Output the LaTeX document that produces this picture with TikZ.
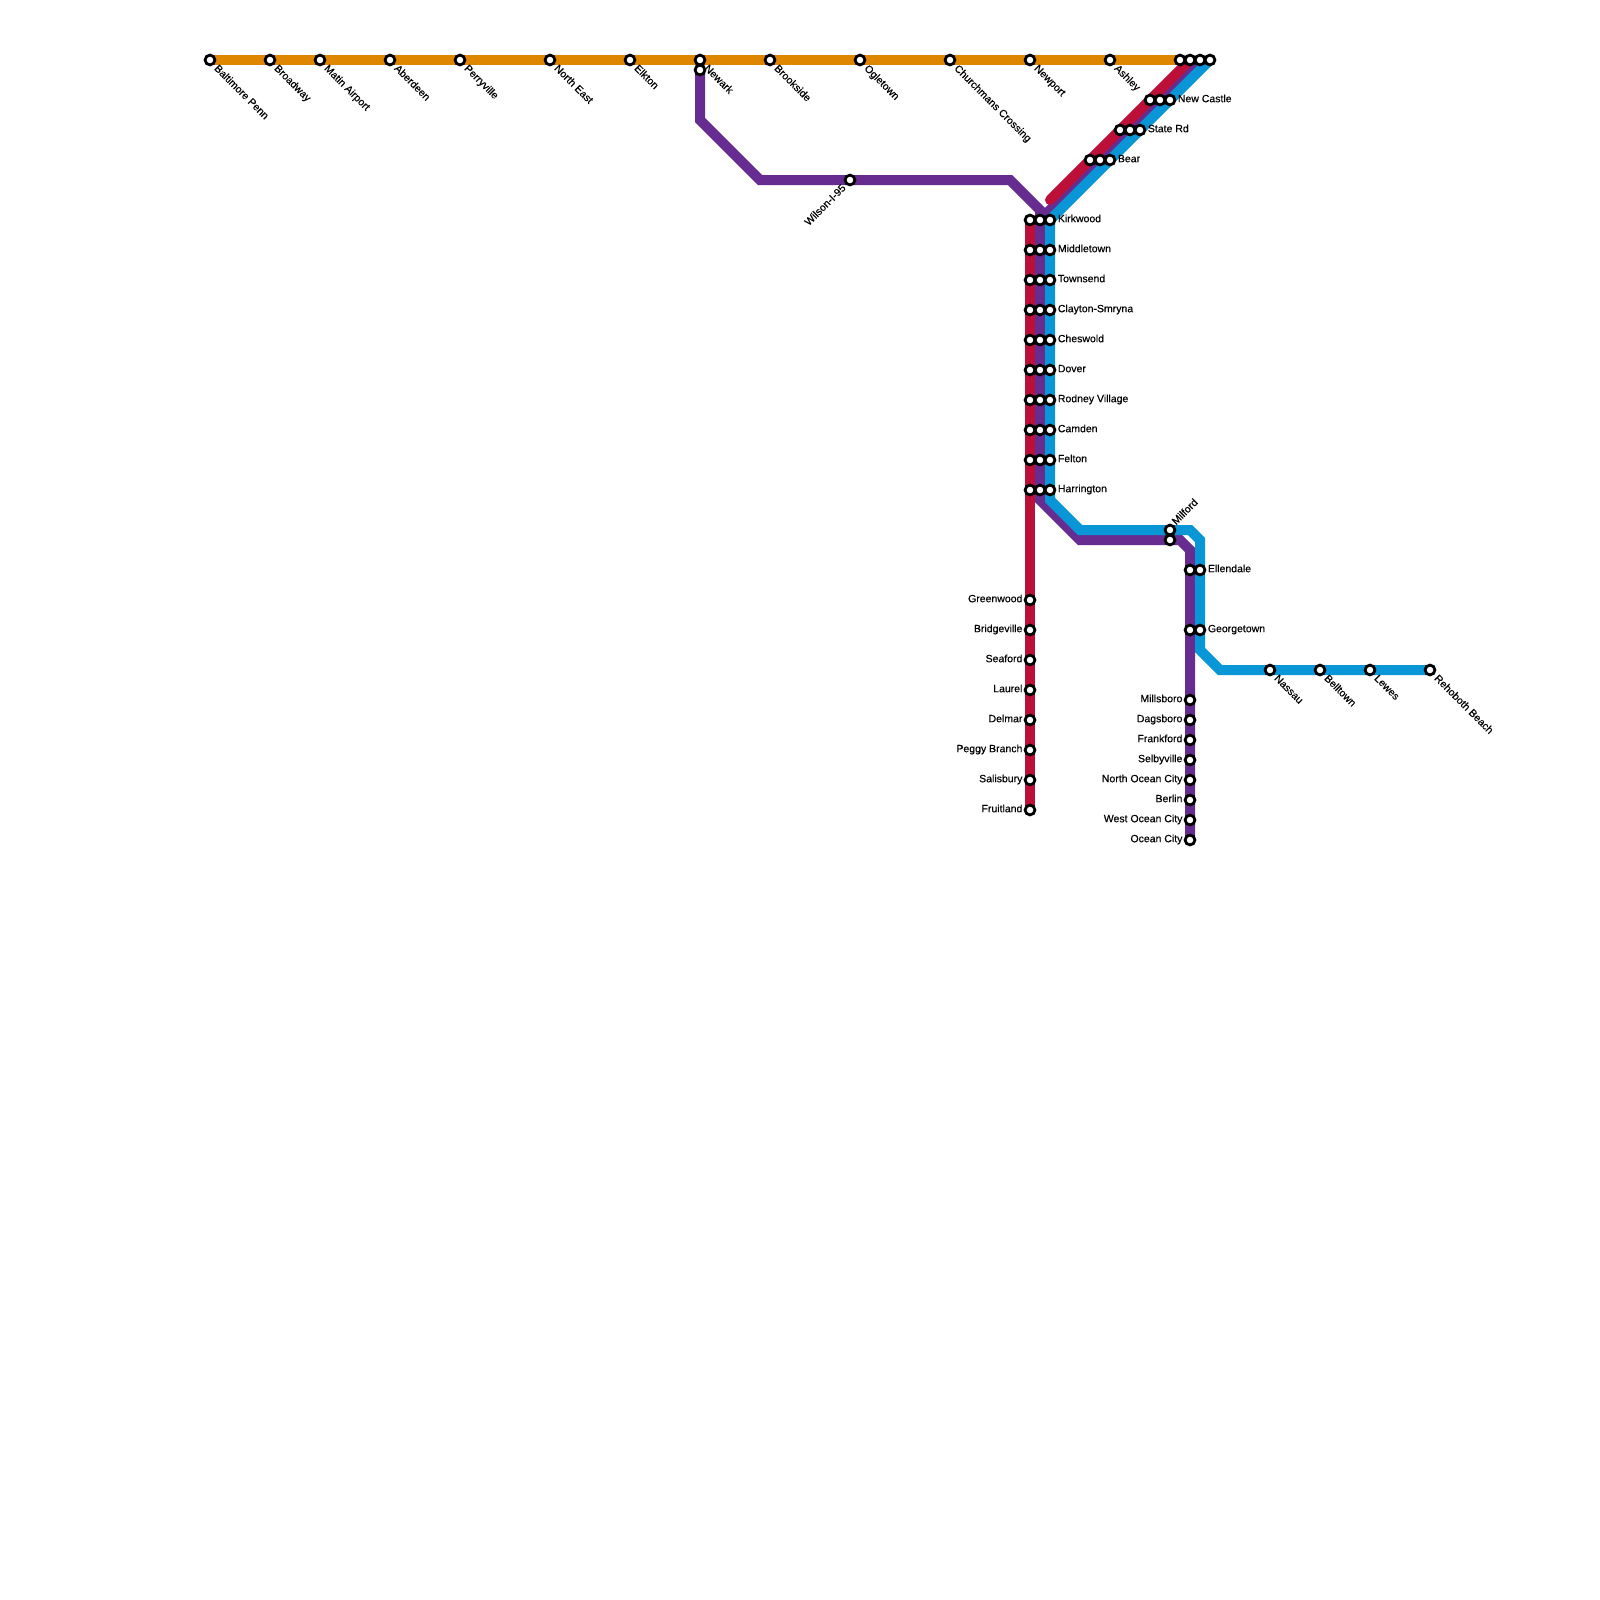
\documentclass[tikz,border=0pt]{standalone}
\usepackage{fontspec}
\setmainfont{Liberation Sans}
\newfontfamily\lblfont[FakeBold=0.35]{Liberation Sans}
\usetikzlibrary{backgrounds}
\definecolor{orangeline}{HTML}{DF8600}
\definecolor{redline}{HTML}{BD1038}
\definecolor{purpleline}{HTML}{662C90}
\definecolor{blueline}{HTML}{0896D7}
\tikzset{
  x=1pt,y=-1pt,
  stn/.style={circle,draw=black,fill=white,line width=2.8pt,minimum size=9.8pt,inner sep=0pt,outer sep=0pt},
  route/.style={line width=10pt,miter limit=10,line join=miter,line cap=butt},
  lbl/.style={font=\lblfont\fontsize{10.5}{12}\selectfont,inner sep=0pt,text=black},
  lr/.style={lbl,anchor=base west},
  ll/.style={lbl,anchor=base east},
  ld/.style={lbl,anchor=base west,rotate=-45},
  lu/.style={lbl,anchor=base west,rotate=45},
  lw/.style={lbl,anchor=base east,rotate=45},
}
\begin{document}
\begin{tikzpicture}
\useasboundingbox (0,0) rectangle (1600,1600);
\foreach \n/\x/\y in {bal/210/60,bro/270/60,mat/320/60,abe/390/60,per/460/60,nea/550/60,elk/630/60,
 newk/700/60,newkb/700/70,brk/770/60,ogl/860/60,chu/950/60,npt/1030/60,ash/1110/60,
 ta/1180/60,tb/1190/60,tc/1200/60,td/1210/60,
 nca/1150/100,ncb/1160/100,ncc/1170/100,sra/1120/130,srb/1130/130,src/1140/130,
 bea/1090/160,beb/1100/160,bec/1110/160,wil/850/180,
 kia/1030/220,kib/1040/220,kic/1050/220,mia/1030/250,mib/1040/250,mic/1050/250,
 toa/1030/280,tob/1040/280,toc/1050/280,cla/1030/310,clb/1040/310,clc/1050/310,
 cha/1030/340,chb/1040/340,chc/1050/340,doa/1030/370,dob/1040/370,doc/1050/370,
 roa/1030/400,rob/1040/400,roc/1050/400,caa/1030/430,cab/1040/430,cac/1050/430,
 fea/1030/460,feb/1040/460,fec/1050/460,haa/1030/490,hab/1040/490,hac/1050/490,
 gre/1030/600,brd/1030/630,sea/1030/660,lau/1030/690,del/1030/720,peg/1030/750,sal/1030/780,fru/1030/810,
 mila/1170/530,milb/1170/540,ela/1190/570,elb/1200/570,gea/1190/630,geb/1200/630,
 nas/1270/670,bel/1320/670,lew/1370/670,reh/1430/670,
 mib2/1190/700,dag/1190/720,fra/1190/740,sel/1190/760,noc/1190/780,ber/1190/800,woc/1190/820,oce/1190/840}
 {\node[stn] (\n) at (\x,\y) {};}
\coordinate (p1) at (700,120);
\coordinate (p2) at (760,180);
\coordinate (p3) at (1010,180);
\coordinate (p4) at (1040,210);
\coordinate (p5) at (1040,500);
\coordinate (p6) at (1080,540);
\coordinate (p7) at (1180,540);
\coordinate (p8) at (1190,550);
\coordinate (b1) at (1050,500);
\coordinate (b2) at (1080,530);
\coordinate (b3) at (1190,530);
\coordinate (b4) at (1200,540);
\coordinate (b5) at (1200,650);
\coordinate (b6) at (1220,670);
\coordinate (r1) at (1050,200);
\begin{pgfonlayer}{background}
\fill[white] (0,0) rectangle (1600,1600);
\draw[route,purpleline] (newkb.center) -- (p1) -- (p2) -- (p3) -- (p4) -- (p5) -- (p6) -- (p7) -- (p8) -- (oce.center);
\draw[route,purpleline] (tc.center) -- (kib.center);
\draw[route,blueline] (td.center) -- (kic.center) -- (b1) -- (b2) -- (b3) -- (b4) -- (b5) -- (b6) -- (reh.center);
\draw[route,redline,line cap=round] (tb.center) -- (r1);
\draw[route,redline] (kia.center) -- (fru.center);
\draw[route,orangeline] (bal.center) -- (ta.center);
\end{pgfonlayer}
\foreach \n/\t in {bal/Baltimore Penn,bro/Broadway,mat/Matin Airport,abe/Aberdeen,per/Perryville,nea/North East,elk/Elkton,newk/Newark,brk/Brookside,ogl/Ogletown,chu/Churchmans Crossing,npt/Newport,ash/Ashley,nas/Nassau,bel/Belltown,lew/Lewes,reh/Rehoboth Beach}
 {\node[ld] (l\n) at ([xshift=3.7pt,yshift=-9pt]\n.center) {\t};}
\foreach \n/\t in {ncc/New Castle,src/State Rd,bec/Bear,kic/Kirkwood,mic/Middletown,toc/Townsend,clc/Clayton-Smryna,chc/Cheswold,doc/Dover,roc/Rodney Village,cac/Camden,fec/Felton,hac/Harrington,elb/Ellendale,geb/Georgetown}
 {\node[lr] (l\n) at ([xshift=7.7pt,yshift=-2.2pt]\n.center) {\t};}
\foreach \n/\t in {gre/Greenwood,brd/Bridgeville,sea/Seaford,lau/Laurel,del/Delmar,peg/Peggy Branch,sal/Salisbury,fru/Fruitland,mib2/Millsboro,dag/Dagsboro,fra/Frankford,sel/Selbyville,noc/North Ocean City,ber/Berlin,woc/West Ocean City,oce/Ocean City}
 {\node[ll] (l\n) at ([xshift=-7.4pt,yshift=-2.2pt]\n.center) {\t};}
\node[lu] (lmil) at ([xshift=6pt,yshift=4.5pt]mila.center) {Milford};
\node[lw] (lwil) at ([xshift=-3.5pt,yshift=-8.5pt]wil.center) {Wilson-I-95};
\end{tikzpicture}
\end{document}
